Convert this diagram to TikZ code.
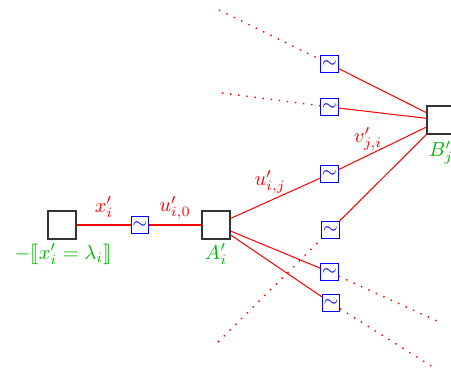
\documentclass[tikz,border=0pt]{standalone}
\usepackage{stmaryrd}
\begin{document}
\begin{tikzpicture}[x=0.49pt,y=-0.49pt,
  factor/.style={draw=black!80,line width=0.6pt,fill=white,minimum size=13.8pt,inner sep=0pt},
  simbox/.style={draw=blue,line width=0.55pt,fill=white,minimum size=8.4pt,inner sep=0pt,text=blue,font=\small},
  wire/.style={red,line width=0.5pt},
  looseend/.style={red,line width=0.7pt,dash pattern=on 0.7pt off 3.3pt},
  msglabel/.style={text=red},
  varlabel/.style={text=green!72!black}]
\useasboundingbox (0,0) rectangle (451,374);

% factor nodes
\node[factor] (P) at (62,225) {};
\node[factor] (A) at (216,225) {};
\node[factor] (B) at (441,120) {};

% message smoothers
\node[simbox] (s0) at (140,225) {$\sim$};
\node[simbox] (t1) at (329.5,64) {$\sim$};
\node[simbox] (t2) at (329.5,107) {$\sim$};
\node[simbox] (sj) at (329.5,174) {$\sim$};
\node[simbox] (sc) at (330.5,230) {$\sim$};
\node[simbox] (l1) at (329.5,272) {$\sim$};
\node[simbox] (l2) at (331,303) {$\sim$};

% loose ends of the other edges
\coordinate (e1) at (219,10);
\coordinate (e2) at (222,93);
\coordinate (e3) at (218,342);
\coordinate (e4) at (437,321);
\coordinate (e5) at (436,369);

% solid edges
\draw[wire] (P) -- (s0) -- (A);
\draw[wire] (A) -- (sj) -- (B);
\draw[wire] (A) -- (l1);
\draw[wire] (A) -- (l2);
\draw[wire] (t1) -- (B);
\draw[wire] (t2) -- (B);
\draw[wire] (sc) -- (B);

% dotted continuations
\draw[looseend] (e1) -- (t1);
\draw[looseend] (e2) -- (t2);
\draw[looseend] (e3) -- (sc);
\draw[looseend] (l1) -- (e4);
\draw[looseend] (l2) -- (e5);

% labels
\node[msglabel] (lx) at (104,207) {$x'_i$};
\node[msglabel] (lu0) at (175,208) {$u'_{i,0}$};
\node[msglabel] (luj) at (270,182) {$u'_{i,j}$};
\node[msglabel] (lv) at (368,139) {$v'_{j,i}$};
\node[varlabel] (lA) at (216,254) {$A'_i$};
\node[varlabel] (lB) at (441,153) {$B'_j$};
\node[varlabel] (lP) at (63,254) {$-\llbracket x'_i=\lambda_i\rrbracket$};
\end{tikzpicture}
\end{document}
